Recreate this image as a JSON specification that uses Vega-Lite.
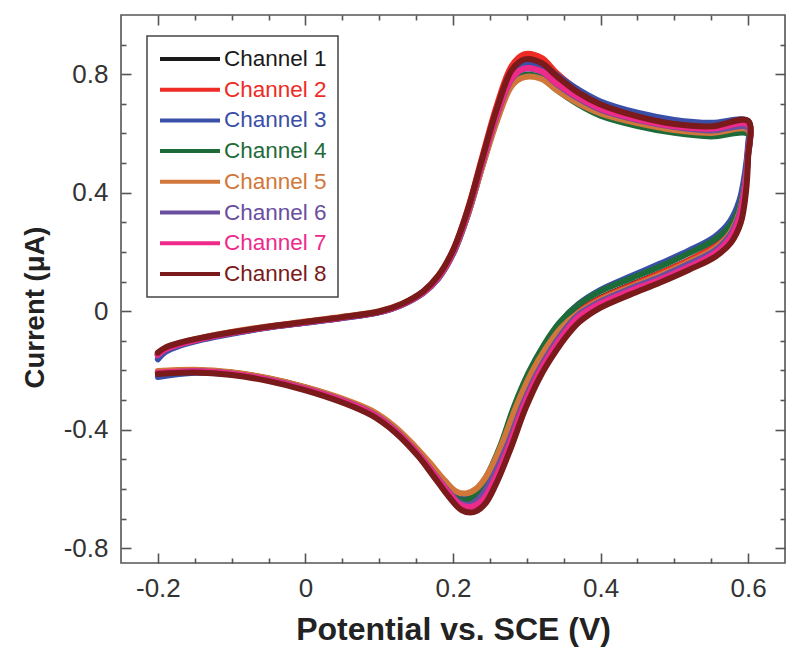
{
"$schema": "https://vega.github.io/schema/vega-lite/v6.json",
"width": 664, "height": 548,
"autosize": {"type": "none"},
"padding": {"left": 121, "top": 15, "right": 15, "bottom": 100},
"background": "white",
"config": {
  "view": {"stroke": "#555", "strokeWidth": 1.6},
  "font": "Liberation Sans",
  "axis": {"grid": false, "domain": false, "tickColor": "#555", "tickWidth": 1.6, "labelFont": "Liberation Sans", "labelColor": "#333", "labelFontSize": 26, "titleFont": "Liberation Sans", "titleFontWeight": "bold", "titleColor": "#222", "titleFontSize": 28}
},
"datasets": {
"cv": [
{"c":1,"o":1,"x":-0.2,"y":-0.145},{"c":1,"o":2,"x":-0.19,"y":-0.128},{"c":1,"o":3,"x":-0.17,"y":-0.11},{"c":1,"o":4,"x":-0.14,"y":-0.092},{"c":1,"o":5,"x":-0.1,"y":-0.073},{"c":1,"o":6,"x":-0.05,"y":-0.053},{"c":1,"o":7,"x":0,"y":-0.037},{"c":1,"o":8,"x":0.05,"y":-0.021},{"c":1,"o":9,"x":0.1,"y":-0.002},{"c":1,"o":10,"x":0.13,"y":0.022},{"c":1,"o":11,"x":0.16,"y":0.065},{"c":1,"o":12,"x":0.18,"y":0.115},{"c":1,"o":13,"x":0.2,"y":0.2},{"c":1,"o":14,"x":0.22,"y":0.335},{"c":1,"o":15,"x":0.24,"y":0.51},{"c":1,"o":16,"x":0.26,"y":0.68},{"c":1,"o":17,"x":0.28,"y":0.805},{"c":1,"o":18,"x":0.297,"y":0.84},{"c":1,"o":19,"x":0.32,"y":0.825},{"c":1,"o":20,"x":0.34,"y":0.78},{"c":1,"o":21,"x":0.37,"y":0.725},{"c":1,"o":22,"x":0.4,"y":0.685},{"c":1,"o":23,"x":0.45,"y":0.648},{"c":1,"o":24,"x":0.5,"y":0.625},{"c":1,"o":25,"x":0.55,"y":0.612},{"c":1,"o":26,"x":0.6,"y":0.622},{"c":1,"o":27,"x":0.6,"y":0.54},{"c":1,"o":28,"x":0.596,"y":0.44},{"c":1,"o":29,"x":0.588,"y":0.34},{"c":1,"o":30,"x":0.575,"y":0.27},{"c":1,"o":31,"x":0.555,"y":0.22},{"c":1,"o":32,"x":0.52,"y":0.172},{"c":1,"o":33,"x":0.48,"y":0.128},{"c":1,"o":34,"x":0.44,"y":0.088},{"c":1,"o":35,"x":0.4,"y":0.045},{"c":1,"o":36,"x":0.37,"y":0},{"c":1,"o":37,"x":0.35,"y":-0.05},{"c":1,"o":38,"x":0.33,"y":-0.12},{"c":1,"o":39,"x":0.31,"y":-0.205},{"c":1,"o":40,"x":0.29,"y":-0.315},{"c":1,"o":41,"x":0.27,"y":-0.45},{"c":1,"o":42,"x":0.25,"y":-0.56},{"c":1,"o":43,"x":0.235,"y":-0.62},{"c":1,"o":44,"x":0.222,"y":-0.648},{"c":1,"o":45,"x":0.208,"y":-0.64},{"c":1,"o":46,"x":0.192,"y":-0.6},{"c":1,"o":47,"x":0.17,"y":-0.53},{"c":1,"o":48,"x":0.15,"y":-0.47},{"c":1,"o":49,"x":0.12,"y":-0.395},{"c":1,"o":50,"x":0.09,"y":-0.34},{"c":1,"o":51,"x":0.05,"y":-0.298},{"c":1,"o":52,"x":0,"y":-0.258},{"c":1,"o":53,"x":-0.05,"y":-0.228},{"c":1,"o":54,"x":-0.1,"y":-0.208},{"c":1,"o":55,"x":-0.15,"y":-0.2},{"c":1,"o":56,"x":-0.2,"y":-0.205},
{"c":2,"o":1,"x":-0.2,"y":-0.148},{"c":2,"o":2,"x":-0.19,"y":-0.13},{"c":2,"o":3,"x":-0.17,"y":-0.111},{"c":2,"o":4,"x":-0.14,"y":-0.093},{"c":2,"o":5,"x":-0.1,"y":-0.074},{"c":2,"o":6,"x":-0.05,"y":-0.054},{"c":2,"o":7,"x":0,"y":-0.038},{"c":2,"o":8,"x":0.05,"y":-0.022},{"c":2,"o":9,"x":0.1,"y":-0.003},{"c":2,"o":10,"x":0.13,"y":0.022},{"c":2,"o":11,"x":0.16,"y":0.066},{"c":2,"o":12,"x":0.18,"y":0.118},{"c":2,"o":13,"x":0.2,"y":0.205},{"c":2,"o":14,"x":0.22,"y":0.345},{"c":2,"o":15,"x":0.24,"y":0.525},{"c":2,"o":16,"x":0.26,"y":0.7},{"c":2,"o":17,"x":0.28,"y":0.83},{"c":2,"o":18,"x":0.297,"y":0.868},{"c":2,"o":19,"x":0.32,"y":0.855},{"c":2,"o":20,"x":0.34,"y":0.805},{"c":2,"o":21,"x":0.37,"y":0.745},{"c":2,"o":22,"x":0.4,"y":0.702},{"c":2,"o":23,"x":0.45,"y":0.662},{"c":2,"o":24,"x":0.5,"y":0.636},{"c":2,"o":25,"x":0.55,"y":0.625},{"c":2,"o":26,"x":0.6,"y":0.638},{"c":2,"o":27,"x":0.6,"y":0.55},{"c":2,"o":28,"x":0.596,"y":0.445},{"c":2,"o":29,"x":0.588,"y":0.342},{"c":2,"o":30,"x":0.575,"y":0.272},{"c":2,"o":31,"x":0.555,"y":0.222},{"c":2,"o":32,"x":0.52,"y":0.172},{"c":2,"o":33,"x":0.48,"y":0.127},{"c":2,"o":34,"x":0.44,"y":0.086},{"c":2,"o":35,"x":0.4,"y":0.043},{"c":2,"o":36,"x":0.37,"y":-0.002},{"c":2,"o":37,"x":0.351,"y":-0.05},{"c":2,"o":38,"x":0.331,"y":-0.12},{"c":2,"o":39,"x":0.311,"y":-0.205},{"c":2,"o":40,"x":0.291,"y":-0.318},{"c":2,"o":41,"x":0.271,"y":-0.455},{"c":2,"o":42,"x":0.251,"y":-0.565},{"c":2,"o":43,"x":0.236,"y":-0.625},{"c":2,"o":44,"x":0.222,"y":-0.645},{"c":2,"o":45,"x":0.208,"y":-0.638},{"c":2,"o":46,"x":0.192,"y":-0.598},{"c":2,"o":47,"x":0.17,"y":-0.53},{"c":2,"o":48,"x":0.15,"y":-0.47},{"c":2,"o":49,"x":0.12,"y":-0.396},{"c":2,"o":50,"x":0.09,"y":-0.341},{"c":2,"o":51,"x":0.05,"y":-0.299},{"c":2,"o":52,"x":0,"y":-0.259},{"c":2,"o":53,"x":-0.05,"y":-0.229},{"c":2,"o":54,"x":-0.1,"y":-0.209},{"c":2,"o":55,"x":-0.15,"y":-0.201},{"c":2,"o":56,"x":-0.2,"y":-0.206},
{"c":3,"o":1,"x":-0.2,"y":-0.162},{"c":3,"o":2,"x":-0.19,"y":-0.138},{"c":3,"o":3,"x":-0.17,"y":-0.116},{"c":3,"o":4,"x":-0.14,"y":-0.096},{"c":3,"o":5,"x":-0.1,"y":-0.076},{"c":3,"o":6,"x":-0.05,"y":-0.055},{"c":3,"o":7,"x":0,"y":-0.039},{"c":3,"o":8,"x":0.05,"y":-0.023},{"c":3,"o":9,"x":0.1,"y":-0.004},{"c":3,"o":10,"x":0.13,"y":0.02},{"c":3,"o":11,"x":0.16,"y":0.062},{"c":3,"o":12,"x":0.18,"y":0.11},{"c":3,"o":13,"x":0.2,"y":0.193},{"c":3,"o":14,"x":0.22,"y":0.325},{"c":3,"o":15,"x":0.24,"y":0.498},{"c":3,"o":16,"x":0.26,"y":0.668},{"c":3,"o":17,"x":0.28,"y":0.795},{"c":3,"o":18,"x":0.297,"y":0.832},{"c":3,"o":19,"x":0.32,"y":0.832},{"c":3,"o":20,"x":0.34,"y":0.798},{"c":3,"o":21,"x":0.37,"y":0.748},{"c":3,"o":22,"x":0.4,"y":0.708},{"c":3,"o":23,"x":0.45,"y":0.67},{"c":3,"o":24,"x":0.5,"y":0.646},{"c":3,"o":25,"x":0.55,"y":0.636},{"c":3,"o":26,"x":0.6,"y":0.642},{"c":3,"o":27,"x":0.6,"y":0.565},{"c":3,"o":28,"x":0.596,"y":0.472},{"c":3,"o":29,"x":0.588,"y":0.372},{"c":3,"o":30,"x":0.575,"y":0.302},{"c":3,"o":31,"x":0.555,"y":0.252},{"c":3,"o":32,"x":0.52,"y":0.205},{"c":3,"o":33,"x":0.48,"y":0.16},{"c":3,"o":34,"x":0.44,"y":0.117},{"c":3,"o":35,"x":0.4,"y":0.072},{"c":3,"o":36,"x":0.37,"y":0.024},{"c":3,"o":37,"x":0.348,"y":-0.03},{"c":3,"o":38,"x":0.328,"y":-0.105},{"c":3,"o":39,"x":0.309,"y":-0.195},{"c":3,"o":40,"x":0.289,"y":-0.31},{"c":3,"o":41,"x":0.269,"y":-0.445},{"c":3,"o":42,"x":0.25,"y":-0.552},{"c":3,"o":43,"x":0.235,"y":-0.61},{"c":3,"o":44,"x":0.222,"y":-0.632},{"c":3,"o":45,"x":0.208,"y":-0.628},{"c":3,"o":46,"x":0.192,"y":-0.592},{"c":3,"o":47,"x":0.17,"y":-0.526},{"c":3,"o":48,"x":0.15,"y":-0.468},{"c":3,"o":49,"x":0.12,"y":-0.395},{"c":3,"o":50,"x":0.09,"y":-0.341},{"c":3,"o":51,"x":0.05,"y":-0.3},{"c":3,"o":52,"x":0,"y":-0.261},{"c":3,"o":53,"x":-0.05,"y":-0.232},{"c":3,"o":54,"x":-0.1,"y":-0.213},{"c":3,"o":55,"x":-0.15,"y":-0.208},{"c":3,"o":56,"x":-0.2,"y":-0.222},
{"c":4,"o":1,"x":-0.2,"y":-0.146},{"c":4,"o":2,"x":-0.19,"y":-0.128},{"c":4,"o":3,"x":-0.17,"y":-0.11},{"c":4,"o":4,"x":-0.14,"y":-0.092},{"c":4,"o":5,"x":-0.1,"y":-0.073},{"c":4,"o":6,"x":-0.05,"y":-0.053},{"c":4,"o":7,"x":0,"y":-0.037},{"c":4,"o":8,"x":0.05,"y":-0.021},{"c":4,"o":9,"x":0.1,"y":-0.002},{"c":4,"o":10,"x":0.13,"y":0.022},{"c":4,"o":11,"x":0.16,"y":0.064},{"c":4,"o":12,"x":0.18,"y":0.112},{"c":4,"o":13,"x":0.2,"y":0.195},{"c":4,"o":14,"x":0.22,"y":0.325},{"c":4,"o":15,"x":0.24,"y":0.492},{"c":4,"o":16,"x":0.26,"y":0.65},{"c":4,"o":17,"x":0.28,"y":0.768},{"c":4,"o":18,"x":0.297,"y":0.798},{"c":4,"o":19,"x":0.32,"y":0.788},{"c":4,"o":20,"x":0.34,"y":0.748},{"c":4,"o":21,"x":0.37,"y":0.698},{"c":4,"o":22,"x":0.4,"y":0.66},{"c":4,"o":23,"x":0.45,"y":0.625},{"c":4,"o":24,"x":0.5,"y":0.602},{"c":4,"o":25,"x":0.55,"y":0.59},{"c":4,"o":26,"x":0.6,"y":0.598},{"c":4,"o":27,"x":0.6,"y":0.525},{"c":4,"o":28,"x":0.596,"y":0.438},{"c":4,"o":29,"x":0.588,"y":0.35},{"c":4,"o":30,"x":0.575,"y":0.288},{"c":4,"o":31,"x":0.555,"y":0.242},{"c":4,"o":32,"x":0.52,"y":0.196},{"c":4,"o":33,"x":0.48,"y":0.15},{"c":4,"o":34,"x":0.44,"y":0.11},{"c":4,"o":35,"x":0.4,"y":0.068},{"c":4,"o":36,"x":0.37,"y":0.022},{"c":4,"o":37,"x":0.344,"y":-0.04},{"c":4,"o":38,"x":0.323,"y":-0.115},{"c":4,"o":39,"x":0.303,"y":-0.205},{"c":4,"o":40,"x":0.283,"y":-0.32},{"c":4,"o":41,"x":0.264,"y":-0.455},{"c":4,"o":42,"x":0.245,"y":-0.56},{"c":4,"o":43,"x":0.231,"y":-0.615},{"c":4,"o":44,"x":0.218,"y":-0.638},{"c":4,"o":45,"x":0.205,"y":-0.632},{"c":4,"o":46,"x":0.19,"y":-0.595},{"c":4,"o":47,"x":0.17,"y":-0.528},{"c":4,"o":48,"x":0.15,"y":-0.469},{"c":4,"o":49,"x":0.12,"y":-0.395},{"c":4,"o":50,"x":0.09,"y":-0.34},{"c":4,"o":51,"x":0.05,"y":-0.298},{"c":4,"o":52,"x":0,"y":-0.258},{"c":4,"o":53,"x":-0.05,"y":-0.228},{"c":4,"o":54,"x":-0.1,"y":-0.208},{"c":4,"o":55,"x":-0.15,"y":-0.2},{"c":4,"o":56,"x":-0.2,"y":-0.205},
{"c":5,"o":1,"x":-0.2,"y":-0.142},{"c":5,"o":2,"x":-0.19,"y":-0.125},{"c":5,"o":3,"x":-0.17,"y":-0.107},{"c":5,"o":4,"x":-0.14,"y":-0.089},{"c":5,"o":5,"x":-0.1,"y":-0.07},{"c":5,"o":6,"x":-0.05,"y":-0.051},{"c":5,"o":7,"x":0,"y":-0.035},{"c":5,"o":8,"x":0.05,"y":-0.019},{"c":5,"o":9,"x":0.1,"y":0},{"c":5,"o":10,"x":0.13,"y":0.024},{"c":5,"o":11,"x":0.16,"y":0.066},{"c":5,"o":12,"x":0.18,"y":0.114},{"c":5,"o":13,"x":0.2,"y":0.196},{"c":5,"o":14,"x":0.22,"y":0.325},{"c":5,"o":15,"x":0.24,"y":0.49},{"c":5,"o":16,"x":0.26,"y":0.645},{"c":5,"o":17,"x":0.28,"y":0.762},{"c":5,"o":18,"x":0.297,"y":0.79},{"c":5,"o":19,"x":0.32,"y":0.784},{"c":5,"o":20,"x":0.34,"y":0.748},{"c":5,"o":21,"x":0.37,"y":0.702},{"c":5,"o":22,"x":0.4,"y":0.668},{"c":5,"o":23,"x":0.45,"y":0.635},{"c":5,"o":24,"x":0.5,"y":0.612},{"c":5,"o":25,"x":0.55,"y":0.602},{"c":5,"o":26,"x":0.6,"y":0.612},{"c":5,"o":27,"x":0.6,"y":0.53},{"c":5,"o":28,"x":0.596,"y":0.432},{"c":5,"o":29,"x":0.588,"y":0.332},{"c":5,"o":30,"x":0.575,"y":0.262},{"c":5,"o":31,"x":0.555,"y":0.212},{"c":5,"o":32,"x":0.52,"y":0.166},{"c":5,"o":33,"x":0.48,"y":0.121},{"c":5,"o":34,"x":0.44,"y":0.081},{"c":5,"o":35,"x":0.4,"y":0.038},{"c":5,"o":36,"x":0.37,"y":-0.006},{"c":5,"o":37,"x":0.347,"y":-0.055},{"c":5,"o":38,"x":0.326,"y":-0.125},{"c":5,"o":39,"x":0.306,"y":-0.21},{"c":5,"o":40,"x":0.286,"y":-0.32},{"c":5,"o":41,"x":0.266,"y":-0.45},{"c":5,"o":42,"x":0.247,"y":-0.55},{"c":5,"o":43,"x":0.232,"y":-0.598},{"c":5,"o":44,"x":0.218,"y":-0.615},{"c":5,"o":45,"x":0.204,"y":-0.608},{"c":5,"o":46,"x":0.189,"y":-0.572},{"c":5,"o":47,"x":0.168,"y":-0.51},{"c":5,"o":48,"x":0.148,"y":-0.455},{"c":5,"o":49,"x":0.12,"y":-0.388},{"c":5,"o":50,"x":0.09,"y":-0.336},{"c":5,"o":51,"x":0.05,"y":-0.295},{"c":5,"o":52,"x":0,"y":-0.256},{"c":5,"o":53,"x":-0.05,"y":-0.226},{"c":5,"o":54,"x":-0.1,"y":-0.206},{"c":5,"o":55,"x":-0.15,"y":-0.198},{"c":5,"o":56,"x":-0.2,"y":-0.202},
{"c":6,"o":1,"x":-0.2,"y":-0.15},{"c":6,"o":2,"x":-0.19,"y":-0.131},{"c":6,"o":3,"x":-0.17,"y":-0.112},{"c":6,"o":4,"x":-0.14,"y":-0.093},{"c":6,"o":5,"x":-0.1,"y":-0.074},{"c":6,"o":6,"x":-0.05,"y":-0.054},{"c":6,"o":7,"x":0,"y":-0.038},{"c":6,"o":8,"x":0.05,"y":-0.022},{"c":6,"o":9,"x":0.1,"y":-0.003},{"c":6,"o":10,"x":0.13,"y":0.021},{"c":6,"o":11,"x":0.16,"y":0.063},{"c":6,"o":12,"x":0.18,"y":0.112},{"c":6,"o":13,"x":0.2,"y":0.196},{"c":6,"o":14,"x":0.22,"y":0.33},{"c":6,"o":15,"x":0.24,"y":0.502},{"c":6,"o":16,"x":0.26,"y":0.665},{"c":6,"o":17,"x":0.28,"y":0.785},{"c":6,"o":18,"x":0.297,"y":0.818},{"c":6,"o":19,"x":0.32,"y":0.808},{"c":6,"o":20,"x":0.34,"y":0.768},{"c":6,"o":21,"x":0.37,"y":0.718},{"c":6,"o":22,"x":0.4,"y":0.68},{"c":6,"o":23,"x":0.45,"y":0.645},{"c":6,"o":24,"x":0.5,"y":0.622},{"c":6,"o":25,"x":0.55,"y":0.61},{"c":6,"o":26,"x":0.6,"y":0.62},{"c":6,"o":27,"x":0.6,"y":0.535},{"c":6,"o":28,"x":0.596,"y":0.43},{"c":6,"o":29,"x":0.588,"y":0.325},{"c":6,"o":30,"x":0.575,"y":0.255},{"c":6,"o":31,"x":0.555,"y":0.205},{"c":6,"o":32,"x":0.52,"y":0.16},{"c":6,"o":33,"x":0.48,"y":0.115},{"c":6,"o":34,"x":0.44,"y":0.076},{"c":6,"o":35,"x":0.4,"y":0.033},{"c":6,"o":36,"x":0.37,"y":-0.012},{"c":6,"o":37,"x":0.353,"y":-0.058},{"c":6,"o":38,"x":0.334,"y":-0.125},{"c":6,"o":39,"x":0.314,"y":-0.21},{"c":6,"o":40,"x":0.294,"y":-0.318},{"c":6,"o":41,"x":0.274,"y":-0.45},{"c":6,"o":42,"x":0.254,"y":-0.56},{"c":6,"o":43,"x":0.239,"y":-0.622},{"c":6,"o":44,"x":0.224,"y":-0.652},{"c":6,"o":45,"x":0.209,"y":-0.646},{"c":6,"o":46,"x":0.193,"y":-0.606},{"c":6,"o":47,"x":0.171,"y":-0.537},{"c":6,"o":48,"x":0.151,"y":-0.476},{"c":6,"o":49,"x":0.121,"y":-0.4},{"c":6,"o":50,"x":0.09,"y":-0.344},{"c":6,"o":51,"x":0.05,"y":-0.301},{"c":6,"o":52,"x":0,"y":-0.261},{"c":6,"o":53,"x":-0.05,"y":-0.231},{"c":6,"o":54,"x":-0.1,"y":-0.211},{"c":6,"o":55,"x":-0.15,"y":-0.203},{"c":6,"o":56,"x":-0.2,"y":-0.21},
{"c":7,"o":1,"x":-0.2,"y":-0.147},{"c":7,"o":2,"x":-0.19,"y":-0.129},{"c":7,"o":3,"x":-0.17,"y":-0.111},{"c":7,"o":4,"x":-0.14,"y":-0.092},{"c":7,"o":5,"x":-0.1,"y":-0.073},{"c":7,"o":6,"x":-0.05,"y":-0.053},{"c":7,"o":7,"x":0,"y":-0.037},{"c":7,"o":8,"x":0.05,"y":-0.021},{"c":7,"o":9,"x":0.1,"y":-0.002},{"c":7,"o":10,"x":0.13,"y":0.022},{"c":7,"o":11,"x":0.16,"y":0.064},{"c":7,"o":12,"x":0.18,"y":0.113},{"c":7,"o":13,"x":0.2,"y":0.198},{"c":7,"o":14,"x":0.22,"y":0.332},{"c":7,"o":15,"x":0.24,"y":0.505},{"c":7,"o":16,"x":0.26,"y":0.668},{"c":7,"o":17,"x":0.28,"y":0.788},{"c":7,"o":18,"x":0.297,"y":0.82},{"c":7,"o":19,"x":0.32,"y":0.81},{"c":7,"o":20,"x":0.34,"y":0.77},{"c":7,"o":21,"x":0.37,"y":0.722},{"c":7,"o":22,"x":0.4,"y":0.684},{"c":7,"o":23,"x":0.45,"y":0.648},{"c":7,"o":24,"x":0.5,"y":0.624},{"c":7,"o":25,"x":0.55,"y":0.616},{"c":7,"o":26,"x":0.6,"y":0.63},{"c":7,"o":27,"x":0.6,"y":0.53},{"c":7,"o":28,"x":0.596,"y":0.42},{"c":7,"o":29,"x":0.588,"y":0.315},{"c":7,"o":30,"x":0.575,"y":0.245},{"c":7,"o":31,"x":0.555,"y":0.196},{"c":7,"o":32,"x":0.52,"y":0.15},{"c":7,"o":33,"x":0.48,"y":0.106},{"c":7,"o":34,"x":0.44,"y":0.068},{"c":7,"o":35,"x":0.4,"y":0.026},{"c":7,"o":36,"x":0.37,"y":-0.02},{"c":7,"o":37,"x":0.355,"y":-0.062},{"c":7,"o":38,"x":0.336,"y":-0.128},{"c":7,"o":39,"x":0.316,"y":-0.212},{"c":7,"o":40,"x":0.296,"y":-0.32},{"c":7,"o":41,"x":0.276,"y":-0.455},{"c":7,"o":42,"x":0.256,"y":-0.57},{"c":7,"o":43,"x":0.241,"y":-0.635},{"c":7,"o":44,"x":0.226,"y":-0.66},{"c":7,"o":45,"x":0.21,"y":-0.654},{"c":7,"o":46,"x":0.194,"y":-0.612},{"c":7,"o":47,"x":0.172,"y":-0.542},{"c":7,"o":48,"x":0.152,"y":-0.48},{"c":7,"o":49,"x":0.121,"y":-0.402},{"c":7,"o":50,"x":0.09,"y":-0.346},{"c":7,"o":51,"x":0.05,"y":-0.302},{"c":7,"o":52,"x":0,"y":-0.262},{"c":7,"o":53,"x":-0.05,"y":-0.232},{"c":7,"o":54,"x":-0.1,"y":-0.211},{"c":7,"o":55,"x":-0.15,"y":-0.203},{"c":7,"o":56,"x":-0.2,"y":-0.208},
{"c":8,"o":1,"x":-0.2,"y":-0.14},{"c":8,"o":2,"x":-0.19,"y":-0.123},{"c":8,"o":3,"x":-0.17,"y":-0.106},{"c":8,"o":4,"x":-0.14,"y":-0.089},{"c":8,"o":5,"x":-0.1,"y":-0.071},{"c":8,"o":6,"x":-0.05,"y":-0.052},{"c":8,"o":7,"x":0,"y":-0.036},{"c":8,"o":8,"x":0.05,"y":-0.02},{"c":8,"o":9,"x":0.1,"y":-0.001},{"c":8,"o":10,"x":0.13,"y":0.024},{"c":8,"o":11,"x":0.16,"y":0.068},{"c":8,"o":12,"x":0.18,"y":0.12},{"c":8,"o":13,"x":0.2,"y":0.206},{"c":8,"o":14,"x":0.22,"y":0.342},{"c":8,"o":15,"x":0.24,"y":0.518},{"c":8,"o":16,"x":0.26,"y":0.688},{"c":8,"o":17,"x":0.28,"y":0.815},{"c":8,"o":18,"x":0.297,"y":0.85},{"c":8,"o":19,"x":0.32,"y":0.838},{"c":8,"o":20,"x":0.34,"y":0.795},{"c":8,"o":21,"x":0.37,"y":0.738},{"c":8,"o":22,"x":0.4,"y":0.698},{"c":8,"o":23,"x":0.45,"y":0.658},{"c":8,"o":24,"x":0.5,"y":0.632},{"c":8,"o":25,"x":0.55,"y":0.624},{"c":8,"o":26,"x":0.6,"y":0.642},{"c":8,"o":27,"x":0.6,"y":0.52},{"c":8,"o":28,"x":0.597,"y":0.4},{"c":8,"o":29,"x":0.59,"y":0.298},{"c":8,"o":30,"x":0.577,"y":0.232},{"c":8,"o":31,"x":0.556,"y":0.185},{"c":8,"o":32,"x":0.52,"y":0.14},{"c":8,"o":33,"x":0.48,"y":0.096},{"c":8,"o":34,"x":0.44,"y":0.056},{"c":8,"o":35,"x":0.4,"y":0.012},{"c":8,"o":36,"x":0.372,"y":-0.035},{"c":8,"o":37,"x":0.357,"y":-0.075},{"c":8,"o":38,"x":0.338,"y":-0.14},{"c":8,"o":39,"x":0.318,"y":-0.222},{"c":8,"o":40,"x":0.298,"y":-0.33},{"c":8,"o":41,"x":0.278,"y":-0.465},{"c":8,"o":42,"x":0.258,"y":-0.585},{"c":8,"o":43,"x":0.243,"y":-0.652},{"c":8,"o":44,"x":0.228,"y":-0.678},{"c":8,"o":45,"x":0.212,"y":-0.672},{"c":8,"o":46,"x":0.195,"y":-0.628},{"c":8,"o":47,"x":0.173,"y":-0.555},{"c":8,"o":48,"x":0.153,"y":-0.49},{"c":8,"o":49,"x":0.122,"y":-0.41},{"c":8,"o":50,"x":0.09,"y":-0.352},{"c":8,"o":51,"x":0.05,"y":-0.308},{"c":8,"o":52,"x":0,"y":-0.267},{"c":8,"o":53,"x":-0.05,"y":-0.236},{"c":8,"o":54,"x":-0.1,"y":-0.215},{"c":8,"o":55,"x":-0.15,"y":-0.207},{"c":8,"o":56,"x":-0.2,"y":-0.212}
]
},
"data": {"name": "cv"},
"layer": [
  {
    "mark": {"type": "line", "strokeWidth": 6, "strokeJoin": "round", "strokeCap": "round", "interpolate": "catmull-rom"},
    "encoding": {
      "x": {"field": "x", "type": "quantitative", "scale": {"domain": [-0.25, 0.65], "nice": false, "zero": false},
        "axis": {"orient": "bottom", "values": [-0.2, 0, 0.2, 0.4, 0.6], "ticks": false, "tickSize": 0, "labelPadding": 12, "labelExpr": "datum.value == 0 ? '0' : (datum.value < 0 ? '-' + format(-datum.value, '.1f') : format(datum.value, '.1f'))", "title": "Potential vs. SCE (V)", "titleFontSize": 32, "titlePadding": 13}},
      "y": {"field": "y", "type": "quantitative", "scale": {"domain": [-0.85, 1.0], "nice": false, "zero": false},
        "axis": {"orient": "left", "values": [-0.8, -0.4, 0, 0.4, 0.8], "ticks": false, "tickSize": 0, "labelPadding": 13, "labelExpr": "datum.value == 0 ? '0' : (datum.value < 0 ? '-' + format(-datum.value, '.1f') : format(datum.value, '.1f'))", "title": "Current (μA)", "titleFontSize": 27.5, "titlePadding": 14, "titleY": 292}},
      "color": {"field": "c", "type": "nominal",
        "scale": {"domain": [1, 2, 3, 4, 5, 6, 7, 8], "range": ["#1a1a1a", "#ee2b24", "#3a4fa8", "#1e6b3a", "#d2773a", "#6a4ea0", "#ee2a8a", "#7a1a1a"]},
        "legend": {"orient": "none", "legendX": 26, "legendY": 21, "title": null, "symbolType": "M-1,0H5", "symbolSize": 400, "symbolStrokeWidth": 4, "labelFontSize": 22.5, "labelFont": "Liberation Sans", "labelOffset": 42, "rowPadding": 6.7, "padding": 11, "strokeColor": "#444", "fillColor": "white", "labelExpr": "'Channel ' + datum.label",
          "encode": {"labels": {"update": {"fill": {"scale": "color", "field": "value"}}}, "legend": {"update": {"strokeWidth": {"value": 1.5}}}}}},
      "order": {"field": "o", "type": "quantitative"}
    }
  },
  {
    "mark": {"type": "point", "opacity": 0},
    "encoding": {
      "x": {"field": "x", "type": "quantitative", "axis": {"orient": "bottom", "values": [-0.2, 0, 0.2, 0.4, 0.6], "tickSize": -10, "labels": false, "title": null}},
      "y": {"field": "y", "type": "quantitative", "axis": {"orient": "left", "values": [-0.8, -0.4, 0, 0.4, 0.8], "tickSize": -10, "labels": false, "title": null}}
    }
  },
  {
    "mark": {"type": "point", "opacity": 0},
    "encoding": {
      "x": {"field": "x", "type": "quantitative", "axis": {"orient": "bottom", "values": [-0.15, -0.1, -0.05, 0.05, 0.1, 0.15, 0.25, 0.3, 0.35, 0.45, 0.5, 0.55], "tickSize": -5, "labels": false, "title": null}},
      "y": {"field": "y", "type": "quantitative", "axis": {"orient": "left", "values": [-0.7, -0.6, -0.5, -0.3, -0.2, -0.1, 0.1, 0.2, 0.3, 0.5, 0.6, 0.7, 0.9], "tickSize": -5, "labels": false, "title": null}}
    }
  },
  {
    "mark": {"type": "point", "opacity": 0},
    "encoding": {
      "x": {"field": "x", "type": "quantitative", "axis": {"orient": "top", "values": [-0.2, 0, 0.2, 0.4, 0.6], "tickSize": -10, "labels": false, "title": null}},
      "y": {"field": "y", "type": "quantitative", "axis": {"orient": "right", "values": [-0.8, -0.4, 0, 0.4, 0.8], "tickSize": -10, "labels": false, "title": null}}
    }
  },
  {
    "mark": {"type": "point", "opacity": 0},
    "encoding": {
      "x": {"field": "x", "type": "quantitative", "axis": {"orient": "top", "values": [-0.15, -0.1, -0.05, 0.05, 0.1, 0.15, 0.25, 0.3, 0.35, 0.45, 0.5, 0.55], "tickSize": -5, "labels": false, "title": null}},
      "y": {"field": "y", "type": "quantitative", "axis": {"orient": "right", "values": [-0.7, -0.6, -0.5, -0.3, -0.2, -0.1, 0.1, 0.2, 0.3, 0.5, 0.6, 0.7, 0.9], "tickSize": -5, "labels": false, "title": null}}
    }
  }
],
"resolve": {"axis": {"x": "independent", "y": "independent"}}
}
